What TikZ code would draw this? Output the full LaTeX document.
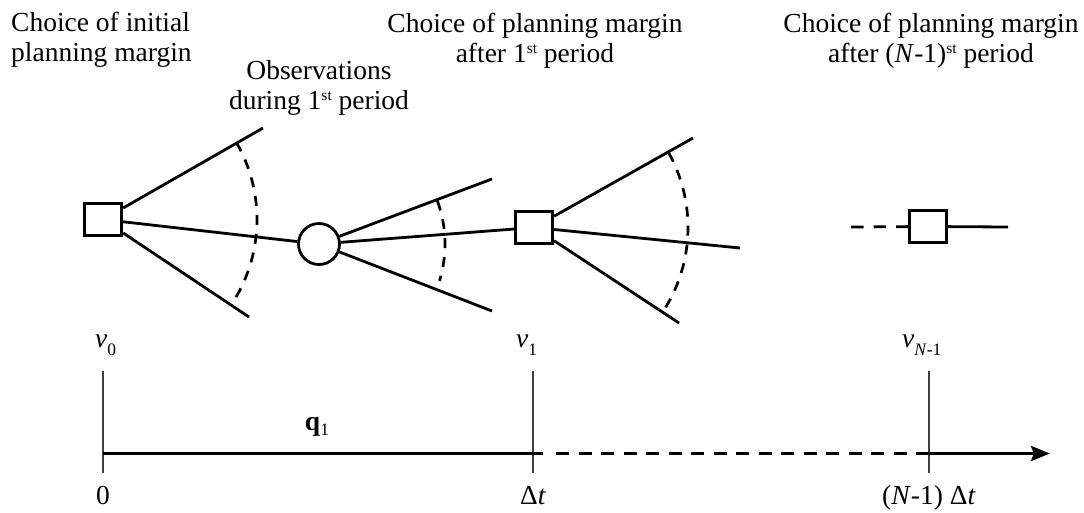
\documentclass[tikz,border=0pt]{standalone}
\usepackage{fontspec}
\setmainfont{Liberation Serif}
\usetikzlibrary{arrows.meta,calc}
\newcommand{\lowtext}[2][8pt]{\raisebox{-#1}{\fontsize{17.5}{17.5}\selectfont #2}}
\newcommand{\hightext}[1]{\raisebox{9pt}{\fontsize{15.5}{15.5}\selectfont #1}}
\begin{document}
\begin{tikzpicture}[x=1pt,y=1pt,font=\fontsize{27.5}{30}\selectfont,
  sqbox/.style={draw,line width=2.8pt,minimum width=37.5pt,minimum height=32.5pt,inner sep=0pt},
  chancenode/.style={circle,draw,line width=2.8pt,minimum size=41pt,inner sep=0pt},
  branch/.style={line width=2.8pt},
  arcdash/.style={line width=2.7pt,dash pattern=on 10pt off 9pt},
  ticks/.style={line width=1.6pt,draw=black!75},
  axisline/.style={line width=3.2pt},
  axisdash/.style={line width=3.2pt,dash pattern=on 13pt off 9.5pt},
  lab/.style={inner sep=0pt,anchor=base},
  toptext/.style={inner sep=0pt,anchor=north,align=center}]
\useasboundingbox (0,0) rectangle (1084,-512);

% decision and chance nodes
\node[sqbox] (sq1) at (103,-219.5) {};
\node[chancenode] (ch1) at (319,-244) {};
\node[sqbox] (sq2) at (534,-227.5) {};
\node[sqbox] (sq3) at (928,-226.5) {};

% branch ends
\coordinate (a1) at (263,-128);
\coordinate (a2) at (249,-317);
\coordinate (b1) at (492,-179);
\coordinate (b2) at (492,-311);
\coordinate (c1) at (693,-138);
\coordinate (c2) at (740,-248);
\coordinate (c3) at (679,-323);
\coordinate (d0) at (851,-227);
\coordinate (d1) at (1008,-227);

\draw[branch] (sq1) -- (a1);
\draw[branch] (sq1) -- (a2);
\draw[branch] (sq1) -- (ch1);
\draw[branch] (ch1) -- (b1);
\draw[branch] (ch1) -- (b2);
\draw[branch] (ch1) -- (sq2);
\draw[branch] (sq2) -- (c1);
\draw[branch] (sq2) -- (c2);
\draw[branch] (sq2) -- (c3);
\draw[line width=2.8pt,dash pattern=on 12.5pt off 10pt] (d0) -- (sq3);
\draw[branch] (sq3) -- (d1);

% dashed arcs
\draw[arcdash] ($(sq1.center)+(30:154)$) arc[start angle=30,end angle=-32,radius=154];
\draw[arcdash] ($(ch1.center)+(20:126)$) arc[start angle=20,end angle=-17,radius=126];
\draw[arcdash] ($(sq2.center)+(29:154)$) arc[start angle=29,end angle=-31.5,radius=154];

% top texts
\node[inner sep=0pt,anchor=north west,align=left] (t1) at (11,-12) {Choice of initial\\planning margin};
\node[toptext] (t4) at (319,-60) {Observations\\during 1\hightext{st} period};
\node[toptext] (t2) at (535,-12.5) {Choice of planning margin\\after 1\hightext{st} period};
\node[toptext] (t3) at (931,-12.5) {Choice of planning margin\\after (\textit{N}-1)\hightext{st} period};

% value labels
\node[lab,anchor=base west] (v0) at (95,-347) {\textit{v}\lowtext{0}};
\node[lab,anchor=base west] (v1) at (516,-347) {\textit{v}\lowtext{1}};
\node[lab,anchor=base west] (vN) at (902,-347) {\textit{v}\lowtext{\textit{N}-1}};

% timeline
\coordinate (k0t) at (103,-371); \coordinate (k0b) at (103,-473);
\coordinate (k1t) at (533,-371); \coordinate (k1b) at (533,-473);
\coordinate (k2t) at (929,-371); \coordinate (k2b) at (929,-473);
\draw[ticks] (k0t) -- (k0b);
\draw[ticks] (k1t) -- (k1b);
\draw[ticks] (k2t) -- (k2b);

\coordinate (x0) at (103,-453.5);
\coordinate (x1) at (543,-453.5);
\coordinate (x1d) at (556,-453.5);
\coordinate (x2) at (929,-453.5);
\coordinate (x3) at (1050,-453.5);
\draw[axisline] (x0) -- (x1);
\draw[axisdash] (x1d) -- (x2);
\draw[axisline,-{Stealth[length=19pt,width=15pt,inset=3pt]}] (x2) -- (x3);

\node[lab] (q1) at (317,-430) {\textbf{q}\lowtext[5pt]{1}};
\node[lab] (l0) at (103,-504) {0};
\node[lab] (l1) at (533,-504) {Δ\textit{t}};
\node[lab] (l2) at (929,-504) {(\textit{N}-1) Δ\textit{t}};
\end{tikzpicture}
\end{document}
